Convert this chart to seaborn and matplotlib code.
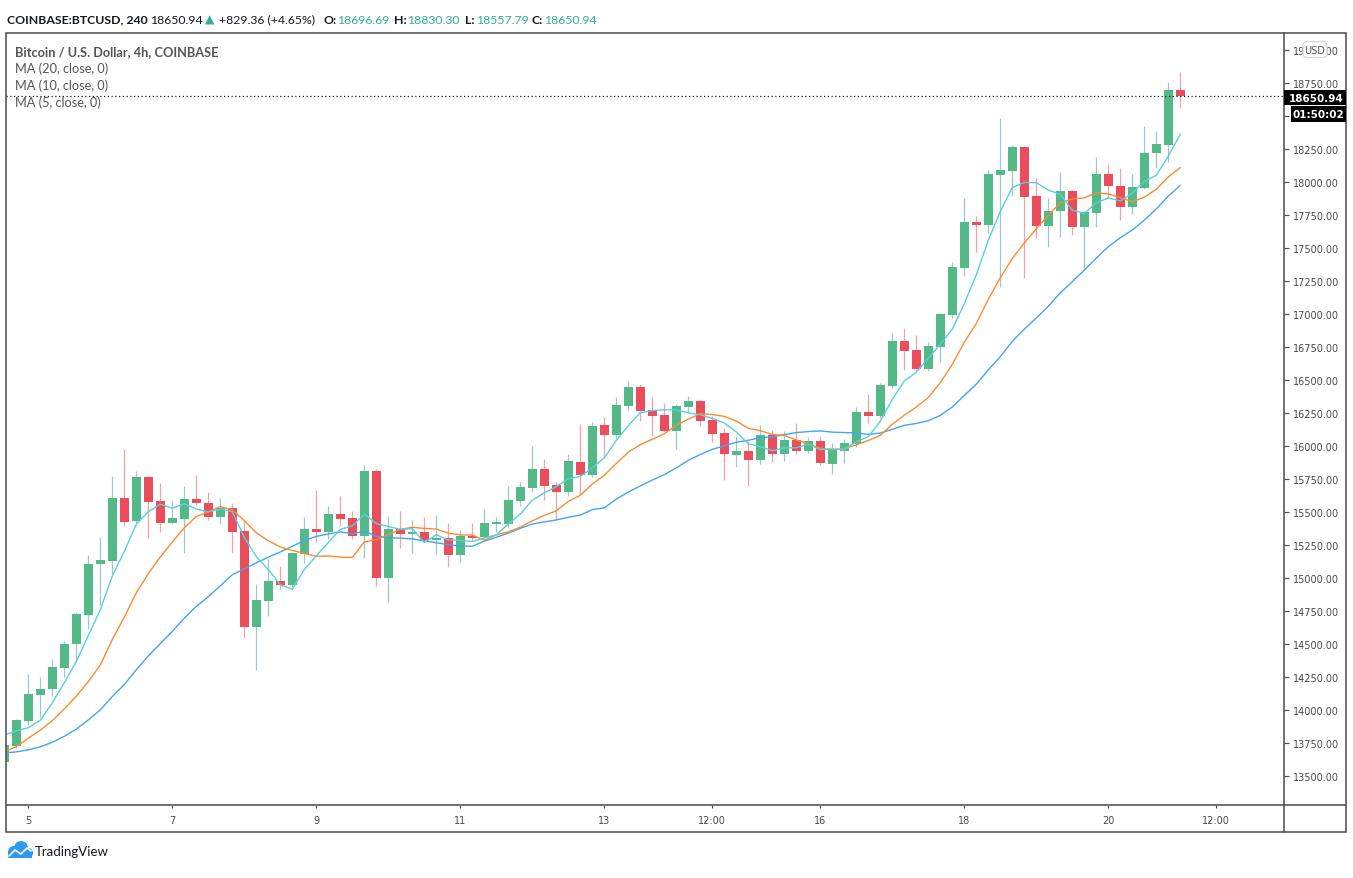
import numpy as np
import pandas as pd
import matplotlib
matplotlib.use("Agg")
import matplotlib.pyplot as plt
import seaborn as sns
from matplotlib.patches import Rectangle, FancyBboxPatch, Circle

# --- dados: candles de 4h (BTCUSD, Coinbase) ---
opens = [13606, 13729, 13919, 14116, 14161, 14321, 14497, 14722, 15103, 15131,
         15606, 15434, 15765, 15583, 15419, 15449, 15598, 15568, 15464, 15530,
         15356, 14631, 14826, 14977, 14947, 15182, 15371, 15351, 15485, 15454,
         15320, 15811, 15002, 15371, 15336, 15348, 15290, 15303, 15174, 15320,
         15313, 15410, 15409, 15586, 15684, 15826, 15704, 15654, 15876, 15780,
         16159, 16086, 16306, 16447, 16273, 16235, 16116, 16298, 16341, 16197,
         16098, 15934, 15962, 15896, 16083, 15942, 16045, 15964, 16038, 15866,
         15964, 16018, 16255, 16225, 16457, 16795, 16727, 16586, 16753, 16995,
         17351, 17697, 17676, 18056, 18086, 18265, 17894, 17669, 17780, 17932,
         17661, 17765, 18061, 17970, 17813, 17957, 18220, 18280, 18696.69]
highs = [13745, 13930, 14273, 14252, 14386, 14525, 14745, 15174, 15313, 15775,
         15977, 15813, 15770, 15720, 15583, 15695, 15780, 15654, 15604, 15568,
         15434, 14954, 15144, 15093, 15195, 15462, 15667, 15548, 15623, 15510,
         15856, 15825, 15467, 15510, 15439, 15464, 15477, 15417, 15364, 15417,
         15523, 15464, 15699, 15730, 16002, 15901, 15730, 15939, 16167, 16184,
         16217, 16369, 16490, 16470, 16369, 16326, 16318, 16376, 16350, 16230,
         16134, 16073, 16040, 16159, 16121, 16116, 16174, 16070, 16079, 16023,
         16053, 16293, 16394, 16477, 16856, 16891, 16841, 16786, 17010, 17396,
         17879, 17745, 18091, 18485, 18280, 18270, 18030, 17879, 18078, 17942,
         17780, 18187, 18136, 18106, 18061, 18422, 18386, 18755, 18830.30]
lows = [13590, 13715, 13886, 13949, 14108, 14252, 14366, 14614, 14798, 15030,
        15396, 15420, 15303, 15351, 15410, 15187, 15550, 15442, 15411, 15192,
        14545, 14306, 14714, 14917, 14935, 15114, 15275, 15295, 15394, 15295,
        15154, 14942, 14816, 15230, 15187, 15270, 15182, 15086, 15124, 15290,
        15300, 15346, 15384, 15543, 15654, 15593, 15442, 15619, 15629, 15763,
        15914, 16053, 16275, 16192, 16078, 16104, 15977, 16260, 16149, 16033,
        15745, 15843, 15699, 15864, 15881, 15889, 15939, 15950, 15856, 15788,
        15871, 15990, 16174, 16210, 16440, 16578, 16570, 16570, 16634, 16967,
        17290, 17467, 17611, 17202, 17896, 17270, 17573, 17505, 17586, 17601,
        17348, 17657, 17876, 17714, 17758, 17950, 18106, 18154, 18557.79]
closes = [13735, 13924, 14121, 14159, 14326, 14500, 14727, 15106, 15136, 15606,
          15426, 15765, 15578, 15419, 15454, 15598, 15566, 15464, 15530, 15351,
          14631, 14833, 14977, 14947, 15189, 15371, 15351, 15485, 15447, 15320,
          15811, 15002, 15371, 15336, 15348, 15285, 15300, 15174, 15318, 15305,
          15417, 15417, 15591, 15692, 15826, 15700, 15654, 15886, 15780, 16149,
          16086, 16311, 16447, 16267, 16230, 16116, 16303, 16341, 16192, 16093,
          15942, 15962, 15896, 16083, 15942, 16045, 15964, 16038, 15873, 15970,
          16023, 16255, 16230, 16462, 16795, 16722, 16586, 16758, 17000, 17356,
          17697, 17676, 18061, 18091, 18265, 17889, 17669, 17780, 17932, 17661,
          17773, 18061, 17972, 17813, 17962, 18220, 18288, 18696.69, 18650.94]
# fechamentos anteriores (fora da tela), usados so para as medias moveis
prior_closes = [13750, 13820, 13700, 13640, 13590, 13650, 13700, 13620, 13580, 13610,
                13520, 13480, 13560, 13600, 13605, 13770, 14000, 13880, 13670]

ma_windows = [20, 10, 5]
ma_colors = {"MA20": "#42a5f5", "MA10": "#fb8c2e", "MA5": "#56d0e4"}

x_tick_pos = [2, 14, 26, 38, 50, 59, 68, 80, 92, 101]
x_tick_labels = ["5", "7", "9", "11", "13", "12:00", "16", "18", "20", "12:00"]
y_ticks = np.arange(13500, 19001, 250)

W, H = 1353, 879
UP, DOWN = "#53b987", "#eb4d5c"
UP_WICK, DOWN_WICK = "#9ccaca", "#f3a2aa"
AXIS = "#4a4a4a"

df = pd.DataFrame({"Open": opens, "High": highs, "Low": lows, "Close": closes})
df["k"] = np.arange(len(df))
df["up"] = df["Close"] >= df["Open"]

# --- medias moveis ---
all_close = pd.Series(prior_closes + closes)
n_prior = len(prior_closes)
ma_rows = []
for w in ma_windows:
    vals = all_close.rolling(w).mean().iloc[n_prior:].to_numpy()
    ma_rows.append(pd.DataFrame({"k": df["k"], "valor": vals, "serie": f"MA{w}"}))
ma_long = pd.concat(ma_rows, ignore_index=True)

sns.set_theme(style="white")
plt.rcParams["font.family"] = ["Lato", "DejaVu Sans"]

fig = plt.figure(figsize=(W / 100, H / 100), dpi=100)
ax = fig.add_axes([6 / W, 1 - 806 / H, (1284 - 6) / W, (806 - 34) / H])

# --- candles ---
wick_cols = np.where(df["up"], UP_WICK, DOWN_WICK)
body_cols = np.where(df["up"], UP, DOWN)
ax.vlines(df["k"], df["Low"], df["High"], colors=wick_cols, linewidth=0.9, zorder=2)
body_bottom = np.minimum(df["Open"], df["Close"])
body_h = np.maximum(np.abs(df["Close"] - df["Open"]), 12)
ax.bar(df["k"], body_h, bottom=body_bottom, width=0.75, color=body_cols,
       linewidth=0, zorder=3)

sns.lineplot(data=ma_long, x="k", y="valor", hue="serie", palette=ma_colors,
             hue_order=["MA20", "MA10", "MA5"], linewidth=1.0, legend=False,
             ax=ax, zorder=4)

ax.axhline(closes[-1], color="#131722", linestyle=(0, (1, 2)), linewidth=0.9, zorder=5)

ax.set_xlim(0.142, 106.64)
ax.set_ylim(13280, 19129)
ax.set_xlabel("")
ax.set_ylabel("")
for s in ax.spines.values():
    s.set_visible(False)
ax.set_xticks(x_tick_pos)
ax.set_xticklabels(x_tick_labels)
ax.yaxis.tick_right()
ax.set_yticks(y_ticks)
# o rotulo 18500 fica escondido atras da caixa do contador
ax.set_yticklabels(["" if v == 18500 else f"{v:.2f}" for v in y_ticks])
ax.tick_params(axis="x", bottom=True, length=2.5, width=0.8, color=AXIS,
               labelcolor=AXIS, labelsize=7, pad=4.5)
ax.tick_params(axis="y", right=True, left=False, length=3.6, width=0.8, color=AXIS,
               labelcolor=AXIS, labelsize=7, pad=2.5)
for t in ax.get_xticklabels() + ax.get_yticklabels():
    t.set_fontfamily("DejaVu Sans")

# --- camada em pixels para moldura e textos ---
ov = fig.add_axes([0, 0, 1, 1])
ov.set_xlim(0, W)
ov.set_ylim(H, 0)
ov.axis("off")
ov.patch.set_alpha(0)

ov.add_patch(Rectangle((6, 34), 1340, 799, fill=False, edgecolor=AXIS, linewidth=1.1))
ov.plot([6, 1346], [806, 806], color=AXIS, linewidth=1.1)
ov.plot([1284, 1284], [34, 833], color=AXIS, linewidth=1.1)

# caixas de preco atual / contagem
ov.add_patch(Rectangle((1284, 90.5), 62, 15, facecolor="black", edgecolor="none", zorder=5))
ov.text(1316, 98.5, "18650.94", color="white", fontsize=7.5, fontweight="bold",
        family="DejaVu Sans", ha="center", va="center", zorder=6)
ov.add_patch(Rectangle((1291, 107), 55, 16, facecolor="black", edgecolor="none", zorder=5))
ov.text(1318.5, 115.5, "01:50:02", color="white", fontsize=7.5, fontweight="bold",
        family="DejaVu Sans", ha="center", va="center", zorder=6)
ov.add_patch(FancyBboxPatch((1303, 42.5), 24, 16, boxstyle="round,pad=0,rounding_size=4",
                            facecolor="white", edgecolor="#d6d6d6", linewidth=0.8, zorder=5))
ov.text(1315, 51, "USD", color="#555555", fontsize=7, family="DejaVu Sans",
        ha="center", va="center", zorder=6)

# cabecalho
DARK, TEAL = "#131722", "#2fae9c"
hdr = [(7, "COINBASE:BTCUSD, 240", DARK, "bold"),
       (150, "18650.94", DARK, "normal"),
       (205, "\u25B2", TEAL, "normal"),
       (219, "+829.36 (+4.65%)", DARK, "normal"),
       (323, "O:", DARK, "bold"), (337, "18696.69", TEAL, "normal"),
       (394, "H:", DARK, "bold"), (407, "18830.30", TEAL, "normal"),
       (465, "L:", DARK, "bold"), (476, "18557.79", TEAL, "normal"),
       (532, "C:", DARK, "bold"), (544, "18650.94", TEAL, "normal")]
for x, txt, col, wt in hdr:
    ov.text(x, 20, txt, color=col, fontweight=wt, fontsize=8.8, ha="left", va="center")

legenda = ["Bitcoin / U.S. Dollar, 4h, COINBASE", "MA (20, close, 0)",
           "MA (10, close, 0)", "MA (5, close, 0)"]
for i, txt in enumerate(legenda):
    ov.text(15, 52 + 16.8 * i, txt, color="#555555", fontsize=9.2,
            fontweight="bold" if i == 0 else "normal", ha="left", va="center")

# logo TradingView
azul = "#2d9cf0"
for cx, cy, r in [(14, 853, 6), (21, 849, 7), (28, 854, 5)]:
    ov.add_patch(Circle((cx, cy), r, facecolor=azul, edgecolor="none"))
ov.add_patch(Rectangle((8, 852), 24, 7, facecolor=azul, edgecolor="none"))
ov.plot([9, 15, 21, 27, 31], [857, 851, 855, 849, 852], color="white", linewidth=1.2)
ov.text(35, 852, "TradingView", color=DARK, fontsize=9.5, ha="left", va="center")

fig.savefig("out.png", dpi=100, facecolor="white")
